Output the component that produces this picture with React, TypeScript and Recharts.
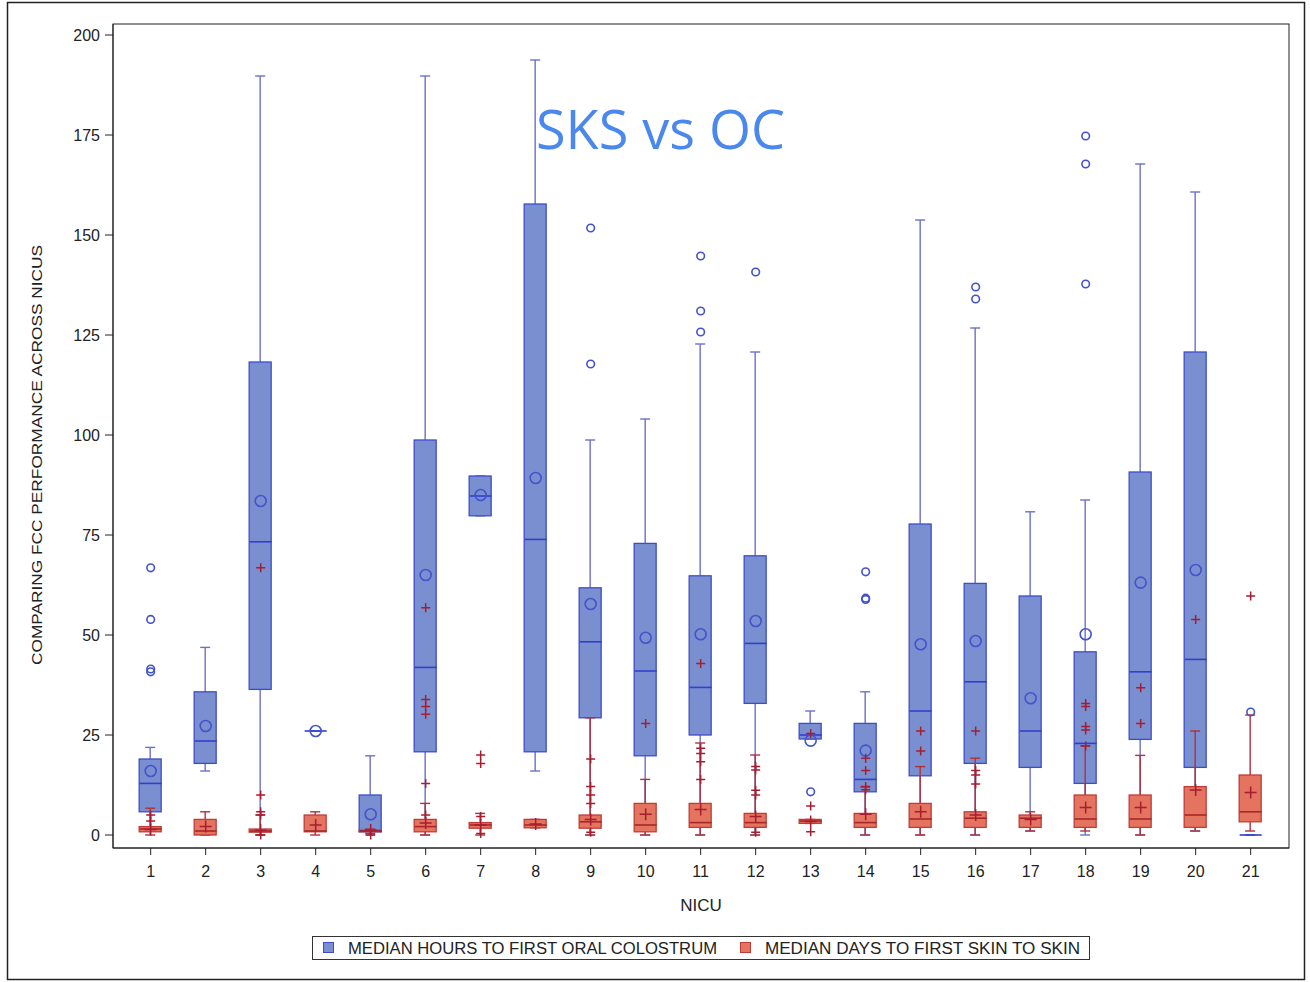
import { ComposedChart, Bar, Scatter, XAxis, YAxis } from "recharts";

const nicus = [1, 2, 3, 4, 5, 6, 7, 8, 9, 10, 11, 12, 13, 14, 15, 16, 17, 18, 19, 20, 21];
const yTicks = [0, 25, 50, 75, 100, 125, 150, 175, 200];

// median hours to first oral colostrum (blue boxes)
const ocQ1 = [5.8, 17.9, 36.4, 26, 0.8, 20.8, 79.8, 20.8, 29.3, 19.8, 25, 32.9, 24, 10.8, 14.8, 17.9, 16.9, 12.9, 23.9, 16.9, 0];
const ocMedian = [12.9, 23.5, 73.3, 26, 1, 41.9, 84.75, 73.9, 48.3, 41, 36.9, 47.9, 25, 13.9, 31, 38.3, 26, 22.9, 40.8, 43.9, 0];
const ocQ3 = [19, 35.8, 118.25, 26, 10, 98.75, 89.75, 157.75, 61.8, 72.9, 64.8, 69.8, 27.9, 27.9, 77.75, 62.9, 59.75, 45.8, 90.75, 120.75, 0];
const ocLow = [1, 16, 0, 26, 0, 0, 79.8, 16, 0, 0, 0, 0, 24, 0, 0, 0, 1, 0, 0, 1, 0];
const ocHigh = [21.9, 46.9, 189.75, 26, 19.8, 189.75, 89.75, 193.75, 98.75, 104, 122.75, 120.75, 31, 35.8, 153.75, 126.75, 80.8, 83.75, 167.75, 160.75, 0];
const ocMean = [16, 27.25, 83.5, 26, 5.2, 65, 85, 89.25, 57.75, 49.3, 50.2, 53.5, 23.6, 21.1, 47.7, 48.5, 34.2, 50.2, 63.1, 66.25, null];
const ocOutliers = [
  [66.8, 53.9, 41.5, 40.8], [], [], [], [], [], [], [], [151.75, 117.75], [], [144.75, 131, 125.75],
  [140.75], [10.8], [65.8, 59.2, 58.9], [], [137, 134], [], [174.75, 167.75, 137.75], [], [], [30.75],
];

// median days to first skin to skin (red boxes)
const sksQ1 = [0.8, 0, 0.7, 0.8, 0.8, 0.8, 1.7, 1.8, 1.7, 0.8, 1.9, 1.9, 2.9, 1.9, 1.9, 1.9, 1.9, 1.9, 1.9, 1.9, 3.3];
const sksMedian = [1.5, 1, 1, 1, 1, 2.1, 2.5, 2.5, 3.3, 2.5, 3.1, 3.1, 3.5, 3.1, 4, 4.2, 4.2, 4, 4, 5, 5.8];
const sksQ3 = [2.1, 3.9, 1.5, 5, 1.2, 3.9, 3.1, 3.9, 5, 7.9, 7.9, 5.4, 3.9, 5.4, 7.9, 5.8, 5, 10, 10, 12.1, 15];
const sksLow = [0, 0, 0, 0, 0.4, 0, 0, 1.8, 0, 0, 0, 0, 2.9, 0, 0, 0, 1, 1, 0, 1, 1];
const sksHigh = [6.7, 5.8, 5, 5.8, 1.5, 7.9, 5.4, 3.9, 29.3, 13.9, 23, 20, 3.9, 12, 17.1, 19.2, 5.8, 22.3, 19.9, 26, 30];
const sksMean = [1.4, 2.1, 1.2, 2.5, 1.25, 3, 2.5, 2.75, 3.9, 5.2, 6.4, 4.6, 3.4, 5.2, 5.8, 5, 3.9, 6.9, 6.9, 11.25, 10.6];
const sksOutliers = [
  [5, 3.5], [], [66.8, 10, 5.8, 5, 0], [], [0], [56.8, 33.9, 32.1, 30.2, 12.9, 5], [20, 17.9, 4.6, 0.4], [],
  [19, 12.1, 10, 7.9, 0.7], [27.9], [42.9, 21.7, 20.4, 18.3, 13.9], [17.1, 16.25, 11.2, 10, 0.7],
  [25.4, 7.25, 0.8], [19.2, 16.1, 12.1, 11.3], [26, 21], [26, 16.1, 15, 12.75], [],
  [32.9, 32.1, 27.1, 26.25, 22.25], [36.8, 27.9], [53.9], [59.75],
];

const title = "SKS vs OC";
const xLabel = "NICU";
const yLabel = "COMPARING FCC PERFORMANCE ACROSS NICUS";
const legendLabels = ["MEDIAN HOURS TO FIRST ORAL COLOSTRUM", "MEDIAN DAYS TO FIRST SKIN TO SKIN"];

const FONT = "'Liberation Sans', Arial, sans-serif";
const BLUE = { fill: "#7a8fd0", stroke: "#3e4ccb", whisker: "#6b70c9", median: "#2f3fcf", marker: "#4253cc" };
const RED = { fill: "#e4735f", stroke: "#c13c36", whisker: "#b0303c", median: "#a8282a", marker: "#a51d30" };

const X_DOMAIN: [number, number] = [0.315, 21.697];
const Y_DOMAIN: [number, number] = [-3.25, 202.75];

const rows = nicus.map((n, i) => ({
  x: n,
  ocWhisker: [ocLow[i], ocHigh[i]],
  ocBox: [ocQ1[i], ocQ3[i]],
  sksWhisker: [sksLow[i], sksHigh[i]],
  sksBox: [sksQ1[i], sksQ3[i]],
}));

const pts = (vals: (number | null)[]) =>
  nicus.map((n, i) => ({ x: n, y: vals[i] })).filter((p) => p.y !== null);
const outlierPts = (lists: number[][]) => nicus.flatMap((n, i) => lists[i].map((v) => ({ x: n, y: v })));

const whiskerShape = (color: string) => (p: any) => {
  const cx = p.x + p.width / 2;
  const y1 = p.y;
  const y2 = p.y + p.height;
  return (
    <g>
      <line x1={cx} x2={cx} y1={y1} y2={y2} stroke={color} strokeWidth={1.4} />
      <line x1={cx - 5} x2={cx + 5} y1={y1} y2={y1} stroke={color} strokeWidth={1.4} />
      <line x1={cx - 5} x2={cx + 5} y1={y2} y2={y2} stroke={color} strokeWidth={1.4} />
    </g>
  );
};

const boxShape = (fill: string, stroke: string) => (p: any) => {
  if (!p.height || p.height <= 0) return <g />;
  return <rect x={p.x} y={p.y} width={p.width} height={p.height} fill={fill} stroke={stroke} strokeWidth={1.3} />;
};

const medianShape = (color: string) => (p: any) => (
  <line x1={p.cx - 11} x2={p.cx + 11} y1={p.cy} y2={p.cy} stroke={color} strokeWidth={1.6} />
);

const circleShape = (color: string, r: number) => (p: any) => (
  <circle cx={p.cx} cy={p.cy} r={r} fill="none" stroke={color} strokeWidth={1.6} />
);

const plusShape = (color: string, s: number) => (p: any) => (
  <path d={`M${p.cx - s},${p.cy}H${p.cx + s}M${p.cx},${p.cy - s}V${p.cy + s}`} stroke={color} strokeWidth={1.5} fill="none" />
);

export default function App() {
  const hiddenAxis = (id: string) => (
    <XAxis xAxisId={id} type="number" dataKey="x" domain={X_DOMAIN} ticks={nicus} allowDataOverflow hide />
  );

  return (
    <div style={{ position: "absolute", left: 0, top: 0, width: 1310, height: 982, background: "#fff" }}>
      <ComposedChart
        width={1310}
        height={982}
        data={rows}
        margin={{ top: 24, right: 21, left: 53, bottom: 94 }}
      >
        <XAxis
          xAxisId="main"
          type="number"
          dataKey="x"
          domain={X_DOMAIN}
          ticks={nicus}
          interval={0}
          allowDataOverflow
          height={40}
          tickSize={7}
          tickMargin={11}
          axisLine={{ stroke: "#222" }}
          tickLine={{ stroke: "#222" }}
          tick={{ fill: "#222", fontSize: 16, fontFamily: FONT }}
        />
        {hiddenAxis("ocW")}
        {hiddenAxis("ocB")}
        {hiddenAxis("sksW")}
        {hiddenAxis("sksB")}
        <YAxis
          type="number"
          domain={Y_DOMAIN}
          ticks={yTicks}
          interval={0}
          allowDataOverflow
          width={60}
          tickSize={8}
          tickMargin={5}
          axisLine={{ stroke: "#222" }}
          tickLine={{ stroke: "#222" }}
          tick={{ fill: "#222", fontSize: 16, fontFamily: FONT }}
        />

        {/* blue: hours to first oral colostrum */}
        <Bar xAxisId="ocW" dataKey="ocWhisker" barSize={22} shape={whiskerShape(BLUE.whisker)} isAnimationActive={false} />
        <Bar xAxisId="ocB" dataKey="ocBox" barSize={22} shape={boxShape(BLUE.fill, BLUE.stroke)} isAnimationActive={false} />
        <Scatter xAxisId="main" data={pts(ocMedian)} dataKey="y" shape={medianShape(BLUE.median)} isAnimationActive={false} />
        <Scatter xAxisId="main" data={pts(ocMean)} dataKey="y" shape={circleShape(BLUE.marker, 5.5)} isAnimationActive={false} />
        <Scatter xAxisId="main" data={outlierPts(ocOutliers)} dataKey="y" shape={circleShape(BLUE.marker, 3.8)} isAnimationActive={false} />

        {/* red: days to first skin to skin */}
        <Bar xAxisId="sksW" dataKey="sksWhisker" barSize={22} shape={whiskerShape(RED.whisker)} isAnimationActive={false} />
        <Bar xAxisId="sksB" dataKey="sksBox" barSize={22} shape={boxShape(RED.fill, RED.stroke)} isAnimationActive={false} />
        <Scatter xAxisId="main" data={pts(sksMedian)} dataKey="y" shape={medianShape(RED.median)} isAnimationActive={false} />
        <Scatter xAxisId="main" data={pts(sksMean)} dataKey="y" shape={plusShape(RED.marker, 6)} isAnimationActive={false} />
        <Scatter xAxisId="main" data={outlierPts(sksOutliers)} dataKey="y" shape={plusShape(RED.marker, 4.5)} isAnimationActive={false} />
      </ComposedChart>

      <svg width={1310} height={982} style={{ position: "absolute", left: 0, top: 0, pointerEvents: "none" }}>
        <rect x={7.5} y={2.5} width={1297} height={977} fill="none" stroke="#222" strokeWidth={1.5} />
        <rect x={113} y={24} width={1176} height={824} fill="none" stroke="#222" strokeWidth={1} />
        <text x={536} y={149} fontSize={54} fontFamily="'Open Sans', sans-serif" fill="#4a88ee" textLength={249} lengthAdjust="spacingAndGlyphs">
          {title}
        </text>
        <text x={701} y={911} fontSize={17} fontFamily={FONT} fill="#222" textAnchor="middle">
          {xLabel}
        </text>
        <text
          transform="translate(42,455) rotate(-90)"
          fontSize={14}
          fontFamily={FONT}
          fill="#222"
          textAnchor="middle"
          textLength={420}
          lengthAdjust="spacingAndGlyphs"
        >
          {yLabel}
        </text>

        <rect x={312.5} y={936.5} width={777} height={23} fill="#fff" stroke="#333" strokeWidth={1} />
        <rect x={323.5} y={942.5} width={10} height={10} fill={BLUE.fill} stroke={BLUE.stroke} />
        <text x={348} y={954} fontSize={16} fontFamily={FONT} fill="#222" textLength={369} lengthAdjust="spacingAndGlyphs">
          {legendLabels[0]}
        </text>
        <rect x={740.5} y={942.5} width={10} height={10} fill={RED.fill} stroke={RED.stroke} />
        <text x={765} y={954} fontSize={16} fontFamily={FONT} fill="#222" textLength={315} lengthAdjust="spacingAndGlyphs">
          {legendLabels[1]}
        </text>
      </svg>
    </div>
  );
}
